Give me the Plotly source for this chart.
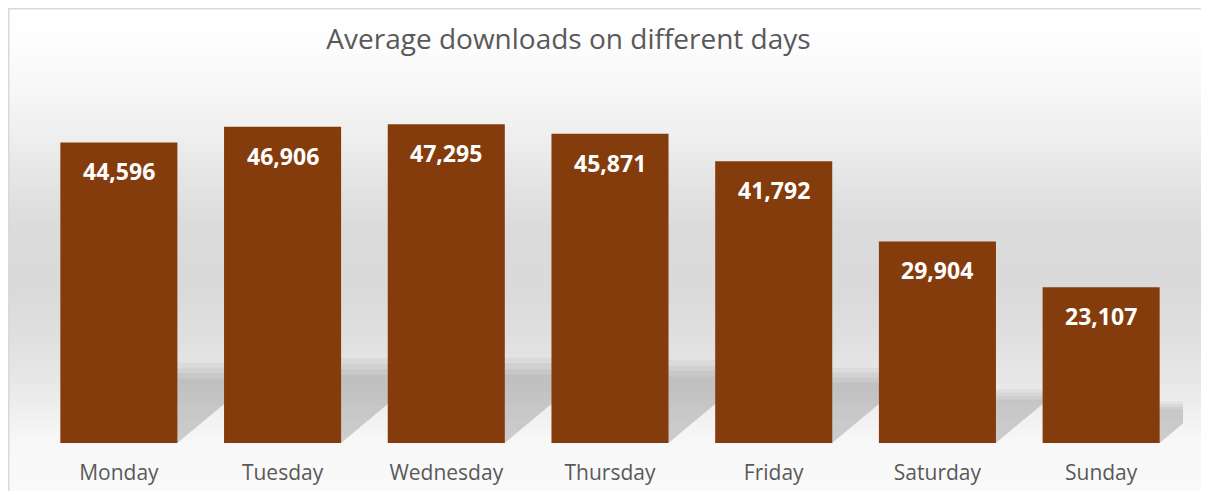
import plotly.graph_objects as go

# ---- data ----
days = ["Monday", "Tuesday", "Wednesday", "Thursday", "Friday", "Saturday", "Sunday"]
downloads = [44596, 46906, 47295, 45871, 41792, 29904, 23107]
title_text = "Average downloads on different days"

# ---- layout geometry ----
# The page body has an 8px margin, so the figure is drawn 8px in from the window edge.
OFF = 8
WIN_W, WIN_H = 1209, 499
W, H = WIN_W - 2 * OFF, WIN_H - 2 * OFF
# plot area in window pixels: x 37..1183, y 106..443
L, R = 37 - OFF, (W + OFF) - 1183
T, B = 106 - OFF, (H + OFF) - 443
PW, PH = W - L - R, H - T - B
BAR_COLOR = "#843C0C"
TEXT_GRAY = "#595959"


def px_x(px):
    """window pixel x -> paper x"""
    return (px - OFF - L) / PW


def px_y(py):
    """window pixel y -> paper y"""
    return (H - B - (py - OFF)) / PH


# background gradient stops (window pixel y, gray level)
grad_stops = [(7, 255), (40, 253), (90, 247), (140, 238), (190, 226), (230, 219),
              (290, 218), (340, 224), (380, 231), (420, 242), (445, 248), (499, 250)]


def gray_at(py):
    for (y0, g0), (y1, g1) in zip(grad_stops[:-1], grad_stops[1:]):
        if y0 <= py <= y1:
            t = (py - y0) / (y1 - y0)
            return g0 + (g1 - g0) * t
    return grad_stops[-1][1]


shapes = []
step = 2
py = 8.5
while py < WIN_H:
    g = int(round(gray_at(py + step / 2)))
    shapes.append(dict(type="rect", xref="paper", yref="paper",
                       x0=px_x(8.5), x1=px_x(WIN_W + 10),
                       y0=px_y(py + step + 0.6), y1=px_y(py),
                       fillcolor=f"rgb({g},{g},{g})", line=dict(width=0), layer="below"))
    py += step

# perspective shadows behind bars (derived from the bar values)
bar_w = 0.715
k_h = 0.25
k_dx = 0.55 / 44596
for i, v in enumerate(downloads):
    for s in (0.86, 0.93, 1.0, 1.07):
        top = k_h * v * s
        dx = k_dx * v * s
        path = (f"M {i - bar_w/2},0 L {i + bar_w/2},0 "
                f"L {i + bar_w/2 + dx},{top} L {i - bar_w/2 + dx},{top} Z")
        shapes.append(dict(type="path", xref="x", yref="y", path=path,
                           fillcolor="rgba(0,0,0,0.045)", line=dict(width=0), layer="below"))

# chart border
shapes.append(dict(type="rect", xref="paper", yref="paper",
                   x0=px_x(8.75), x1=px_x(WIN_W + 20),
                   y0=px_y(WIN_H + 20), y1=px_y(8.75),
                   line=dict(color="#D9D9D9", width=1.5), fillcolor="rgba(0,0,0,0)", layer="above"))

fig = go.Figure()
fig.add_trace(go.Bar(
    x=list(range(len(days))), y=downloads, width=bar_w,
    marker=dict(color=BAR_COLOR, line=dict(width=0)),
    hoverinfo="skip",
))

annotations = []
for i, v in enumerate(downloads):
    annotations.append(dict(x=i, y=v, xref="x", yref="y", text=f"{v:,}", showarrow=False,
                            yanchor="middle", yshift=-29,
                            font=dict(family="Open Sans", size=23, color="white", weight="bold")))

fig.update_layout(
    width=W, height=H,
    margin=dict(l=L, r=R, t=T, b=B, autoexpand=False),
    paper_bgcolor="white",
    plot_bgcolor="rgba(0,0,0,0)",
    showlegend=False,
    title=dict(text=title_text, xref="container", yref="container",
               x=(568.5 - OFF) / W, xanchor="center", y=1 - (39 - OFF) / H, yanchor="middle",
               font=dict(family="Open Sans", size=28, color=TEXT_GRAY)),
    xaxis=dict(range=[-0.5, len(days) - 0.5], tickmode="array",
               tickvals=list(range(len(days))), ticktext=days,
               showgrid=False, zeroline=False, showline=False, ticks="",
               ticklabelstandoff=15, automargin=False,
               tickfont=dict(family="Open Sans", size=21, color=TEXT_GRAY)),
    yaxis=dict(range=[0, 50000], visible=False, showgrid=False, zeroline=False, automargin=False),
    shapes=shapes,
    annotations=annotations,
)

fig.write_html("out.html")
